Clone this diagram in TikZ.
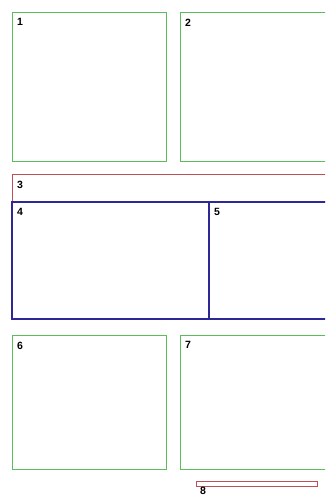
\documentclass[tikz,border=0pt]{standalone}
\usepackage{fontspec}
\setmainfont{Liberation Sans}
\definecolor{gboxc}{RGB}{90,190,90}
\definecolor{rboxc}{RGB}{190,80,85}
\definecolor{bboxc}{RGB}{45,40,150}
\begin{document}
\begin{tikzpicture}[x=1pt,y=-1pt,
  box/.style={draw,line width=0.9pt,anchor=north west,inner sep=0pt,outer sep=0pt},
  gbox/.style={box,draw=gboxc},
  rbox/.style={box,draw=rboxc},
  bbox/.style={box,draw=bboxc,line width=1.1pt},
  lbl/.style={anchor=north west,inner sep=0pt,font=\fontsize{10.5}{11}\bfseries\selectfont}]
\useasboundingbox (0,0) rectangle (325,498);
\clip (0,0) rectangle (325,498);
\node[gbox,minimum width=154pt,minimum height=149pt] (b1) at (12,12) {};
\node[gbox,minimum width=154pt,minimum height=149pt] (b2) at (180,12) {};
\node[rbox,minimum width=320pt,minimum height=27pt] (b3) at (12,174) {};
\node[bbox,minimum width=197pt,minimum height=117pt] (b4) at (12,202) {};
\node[bbox,minimum width=130pt,minimum height=117pt] (b5) at (209,202) {};
\node[gbox,minimum width=154pt,minimum height=134pt] (b6) at (12,335) {};
\node[gbox,minimum width=154pt,minimum height=134pt] (b7) at (180,335) {};
\node[rbox,line width=0.8pt,minimum width=121pt,minimum height=5pt] (b8) at (196,481) {};
\node[lbl] (l1) at (17,18.5) {1};
\node[lbl] (l2) at (185,18.5) {2};
\node[lbl] (l3) at (17,180.5) {3};
\node[lbl] (l4) at (17,208.5) {4};
\node[lbl] (l5) at (214,208.5) {5};
\node[lbl] (l6) at (17,341.5) {6};
\node[lbl] (l7) at (185,341.5) {7};
\node[lbl,fill=white,inner xsep=1pt] (l8) at (199,486.5) {8};
\end{tikzpicture}
\end{document}
